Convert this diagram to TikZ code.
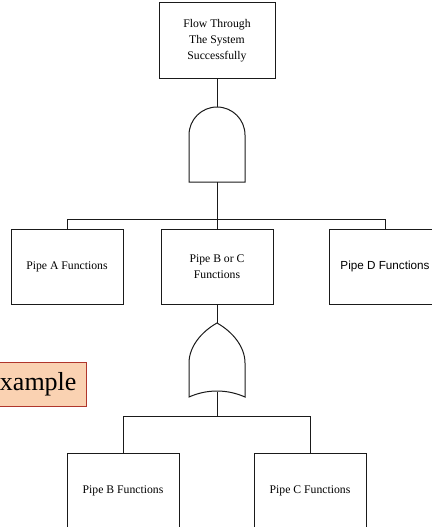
\documentclass[tikz,border=0pt]{standalone}
\usepackage{fontspec}
\setmainfont{Liberation Serif}
\newfontfamily\arialfont{Liberation Sans}
\definecolor{tagfill}{HTML}{FAD2B2}
\definecolor{tagedge}{HTML}{B0362C}
\definecolor{linegray}{HTML}{1A1A1A}
\begin{document}
\begin{tikzpicture}[x=1pt,y=-1pt,
  event/.style={draw=linegray,line width=1pt,fill=white,minimum width=112pt,minimum height=75pt,
    inner sep=0pt,align=center,font=\fontsize{11.7}{16}\selectfont},
  wire/.style={draw=linegray,line width=1pt},
  gate/.style={draw=linegray,line width=1pt,fill=white}]
\useasboundingbox (0,0) rectangle (431,527);

% top event
\node[event,minimum width=116pt] (top) at (217,40.5) {Flow Through\\The System\\Successfully};

% AND gate: flat base, round top
\draw[gate] (189,182) -- (189,135) arc[start angle=180,end angle=360,radius=28] -- (245,182) -- cycle;
\coordinate (andin) at (217,107);
\coordinate (andout) at (217,182);

% first level events
\node[event] (pa) at (67,266.5) {Pipe A Functions};
\node[event] (pbc) at (217,266.5) {Pipe B or C\\Functions};
\node[event,font=\arialfont\fontsize{11.7}{14}\selectfont] (pd) at (385,266.5) {Pipe D Functions};

% OR gate: pointed top, concave base
\draw[gate] (217,323) .. controls (201,332) and (189,347) .. (189,363) -- (189,397)
  .. controls (207,389) and (227,389) .. (245,397) -- (245,363)
  .. controls (245,347) and (233,332) .. (217,323) -- cycle;
\coordinate (orin) at (217,323);
\coordinate (orout) at (217,391.5);

% second level events
\node[event] (pb) at (123,490.5) {Pipe B Functions};
\node[event] (pc) at (310,490.5) {Pipe C Functions};

% connectors
\draw[wire] (top.south) -- (andin);
\draw[wire] (andout) -- (217,219.5) coordinate (bus1);
\draw[wire] (pa.north) |- (bus1) -| (pd.north);
\draw[wire] (bus1) -- (pbc.north);
\draw[wire] (pbc.south) -- (orin);
\draw[wire] (orout) -- (217,416.5) coordinate (bus2);
\draw[wire] (pb.north) |- (bus2) -| (pc.north);

% label tag
\node[draw=tagedge,line width=1pt,fill=tagfill,anchor=east,inner xsep=10pt,inner ysep=4pt,
  minimum height=44pt,font=\fontsize{26}{30}\selectfont] (tag) at (87,384) {Example};
\end{tikzpicture}
\end{document}
